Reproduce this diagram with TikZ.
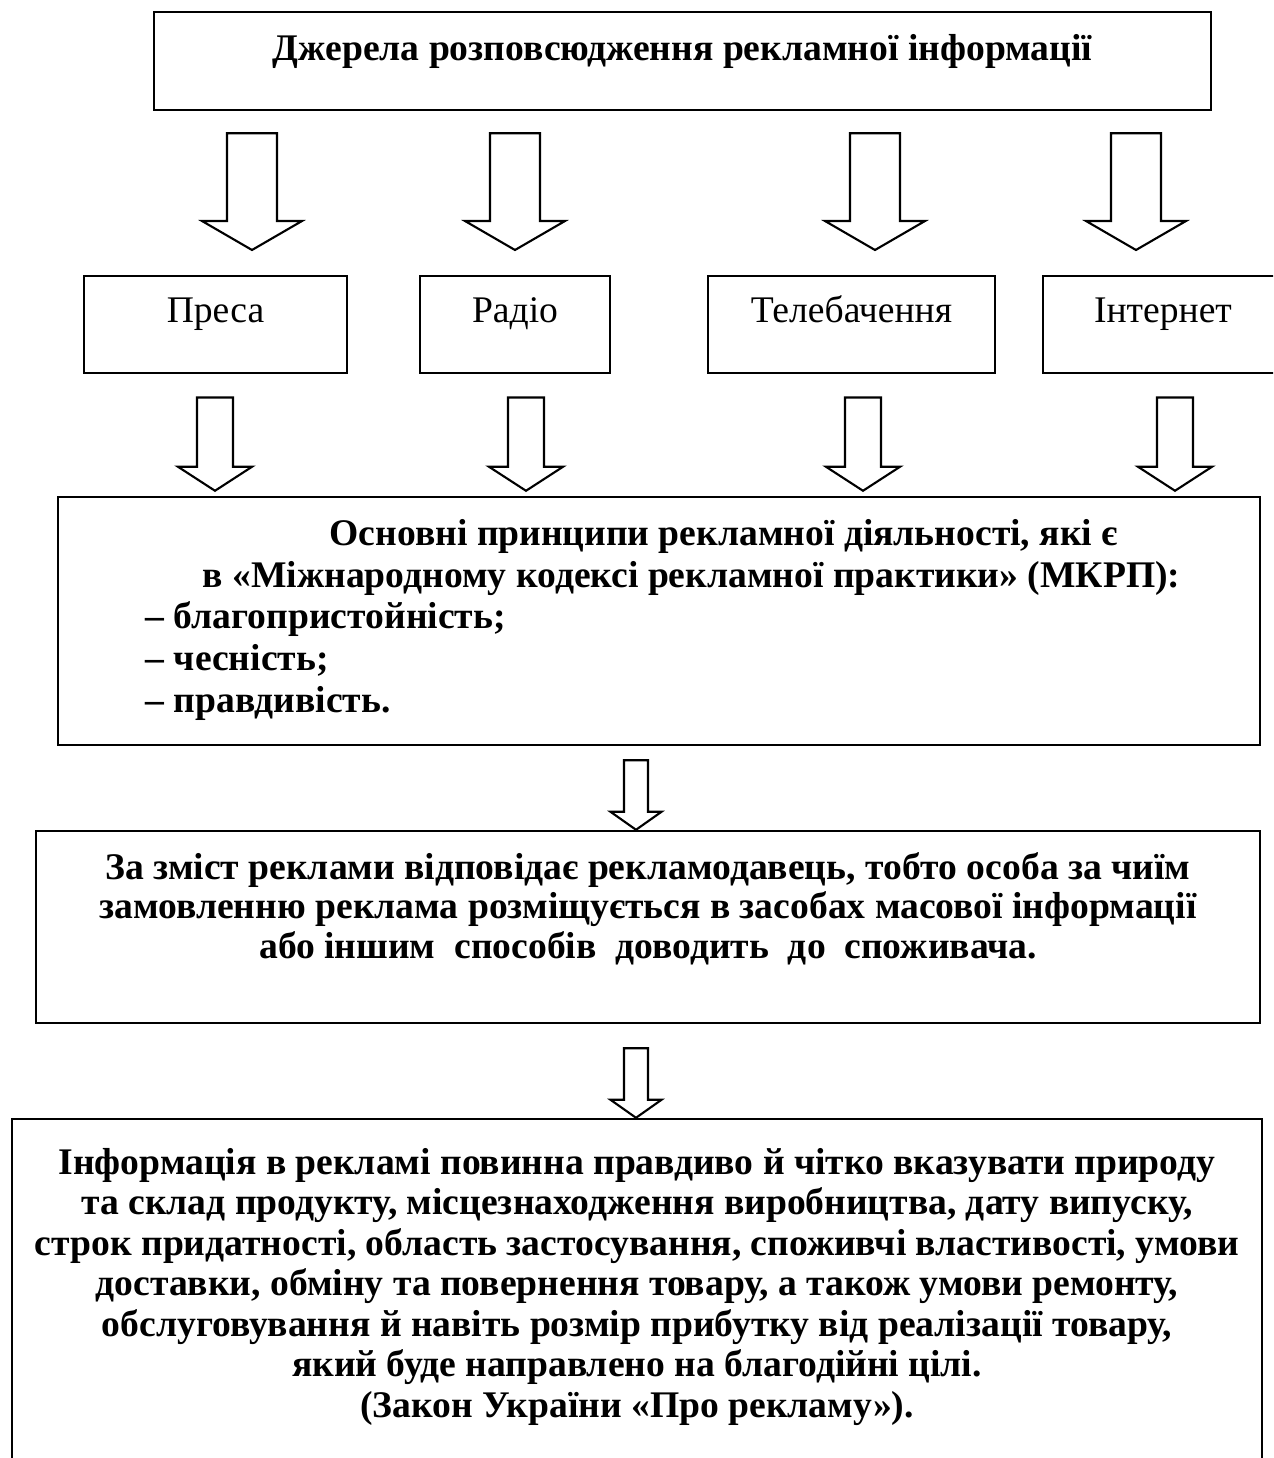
\documentclass[tikz,border=0pt]{standalone}
\usepackage{fontspec}
\setmainfont{Liberation Serif}
\usepackage{tikz}
\usetikzlibrary{positioning,calc}
\newcommand{\fatarrow}[8]{%
  \coordinate (fa-x) at (#3,0);
  \coordinate (fa-top) at ($(#1.south -| fa-x)+(0,-#4)$);
  \coordinate (fa-tip) at ($(#2.north -| fa-x)+(0,#5)$);
  \draw[blockarrow] ($(fa-top)+(-#7,0)$) -- ($(fa-top)+(#7,0)$)
    -- ($(fa-tip)+(#7,#6)$) -- ($(fa-tip)+(#8,#6)$) -- (fa-tip)
    -- ($(fa-tip)+(-#8,#6)$) -- ($(fa-tip)+(-#7,#6)$) -- cycle;
}

\begin{document}
\begin{tikzpicture}[
    box/.style={draw, line width=0.7pt, inner sep=0pt},
    media/.style={box, anchor=north, text height=0.46cm, text depth=0.51cm,
      font=\fontsize{10.7}{12.8}\selectfont},
    blockarrow/.style={line width=0.6pt, fill=white},
    txt/.style={anchor=base, inner sep=0pt, font=\fontsize{10.7}{12.8}\selectfont\bfseries}
  ]
  \useasboundingbox (0,0) rectangle (12.73,-14.58);
  \clip (0,0) rectangle (12.73,-14.58);

  % source box
  \node[box, minimum width=10.57cm, text height=0.49cm, text depth=0.49cm,
    font=\fontsize{10.7}{12.8}\selectfont\bfseries] (src) at (6.825,-0.61)
    {Джерела розповсюдження рекламної інформації};

  % media
  \node[media, minimum width=2.63cm] (press) at (2.155,-2.75) {Преса};
  \node[media, minimum width=1.90cm] (radio) at (5.15,-2.75) {Радіо};
  \node[media, minimum width=2.87cm] (tv) at (8.515,-2.75) {Телебачення};
  \node[media, minimum width=2.40cm] (web) at (11.63,-2.75) {Інтернет};

  % principles
  \node[box, minimum width=12.02cm, minimum height=2.48cm] (rules) at (6.59,-6.21) {};
  \node[txt, anchor=base west] (p1) at (3.29,-5.45) {Основні принципи рекламної діяльності, які є};
  \node[txt, anchor=base west] (p2) at (2.02,-5.87) {в «Міжнародному кодексі рекламної практики» (МКРП):};
  \node[txt, anchor=base west] (p3) at (1.45,-6.28) {– благопристойність;};
  \node[txt, anchor=base west] (p4) at (1.45,-6.70) {– чесність;};
  \node[txt, anchor=base west] (p5) at (1.45,-7.12) {– правдивість.};

  % liability
  \node[box, minimum width=12.24cm, minimum height=1.92cm] (liab) at (6.48,-9.27) {};
  \foreach \t [count=\i] in {%
    {За зміст реклами відповідає рекламодавець, тобто особа за чиїм},%
    {замовленню реклама розміщується в засобах масової інформації},%
    {або іншим\ \ способів\ \ доводить\ \ до\ \ споживача.}}
    \node[txt] (c\i) at (6.48,{-8.79-0.395*(\i-1)}) {\t};

  % information
  \node[box, minimum width=12.50cm, minimum height=3.61cm] (info) at (6.37,-12.995) {};
  \foreach \t [count=\i] in {%
    {Інформація в рекламі повинна правдиво й чітко вказувати природу},%
    {та склад продукту, місцезнаходження виробництва, дату випуску,},%
    {строк придатності, область застосування, споживчі властивості, умови},%
    {доставки, обміну та повернення товару, а також умови ремонту,},%
    {обслуговування й навіть розмір прибутку від реалізації товару,},%
    {який буде направлено на благодійні цілі.},%
    {(Закон України «Про рекламу»).}}
    \node[txt] (z\i) at (6.37,{-11.74-0.405*(\i-1)}) {\t};

  % arrows
  \foreach \m/\x in {press/2.52, radio/5.15, tv/8.75, web/11.36}
    {\fatarrow{src}{\m}{\x}{0.22}{0.25}{0.29}{0.25}{0.50}}
  \foreach \m/\x in {press/2.15, radio/5.26, tv/8.63, web/11.75}
    {\fatarrow{\m}{rules}{\x}{0.23}{0.05}{0.24}{0.18}{0.37}}
  \fatarrow{rules}{liab}{6.36}{0.14}{0}{0.18}{0.12}{0.255}
  \fatarrow{liab}{info}{6.36}{0.24}{0}{0.18}{0.12}{0.255}
\end{tikzpicture}
\end{document}
